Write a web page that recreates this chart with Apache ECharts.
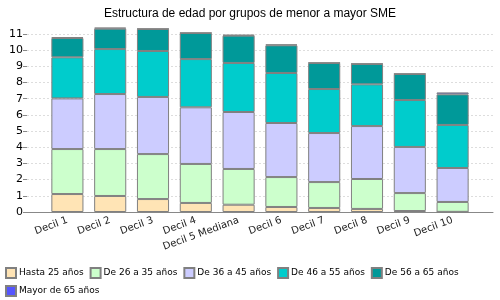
<!DOCTYPE html>
<html>
<head>
<meta charset="utf-8">
<script src="https://cdn.jsdelivr.net/npm/echarts@6/dist/echarts.min.js"></script>
<style>
    html, body { margin: 0; padding: 0; background: #fff; }
    #chart { width: 500px; height: 300px; }
</style>
</head>
<body>
<div id="chart"></div>
<script>
// deciles, de menor a mayor SME
var categorias = ['Decil 1', 'Decil 2', 'Decil 3', 'Decil 4', 'Decil 5 Mediana',
    'Decil 6', 'Decil 7', 'Decil 8', 'Decil 9', 'Decil 10'];

// valores por grupo de edad
var hasta25 = [1.11, 0.99, 0.80, 0.56, 0.45, 0.31, 0.25, 0.19, 0.06, 0.01];
var de26a35 = [2.78, 2.90, 2.78, 2.41, 2.21, 1.85, 1.60, 1.85, 1.11, 0.61];
var de36a45 = [3.13, 3.40, 3.53, 3.50, 3.52, 3.34, 3.03, 3.27, 2.85, 2.10];
var de46a55 = [2.54, 2.78, 2.84, 2.98, 3.03, 3.09, 2.72, 2.58, 2.90, 2.66];
var de56a65 = [1.19, 1.26, 1.36, 1.61, 1.69, 1.71, 1.61, 1.26, 1.61, 1.89];
var mayor65 = [0.05, 0.07, 0.02, 0.02, 0.05, 0.06, 0.02, 0.02, 0.02, 0.12];

var yTicks = [0, 11]; // min y max del eje

var grupos = [
    { name: 'Hasta 25 años', data: hasta25, color: '#ffe4b5' },
    { name: 'De 26 a 35 años', data: de26a35, color: '#ccffcc' },
    { name: 'De 36 a 45 años', data: de36a45, color: '#ccccff' },
    { name: 'De 46 a 55 años', data: de46a55, color: '#00cccc' },
    { name: 'De 56 a 65 años', data: de56a65, color: '#009999' },
    { name: 'Mayor de 65 años', data: mayor65, color: '#5555ff' }
];

var chart = echarts.init(document.getElementById('chart'));

chart.setOption({
    animation: false,
    title: {
        text: 'Estructura de edad por grupos de menor a mayor SME',
        left: 'center',
        top: 3,
        textStyle: { fontSize: 12, fontWeight: 'normal', color: '#000', fontFamily: 'Liberation Sans' }
    },
    legend: {
        left: 0,
        top: 262,
        width: 480,
        itemWidth: 10,
        itemHeight: 10,
        itemGap: 6,
        icon: 'rect',
        data: grupos.map(g => g.name),
        textStyle: { fontSize: 9, color: '#000', fontFamily: 'DejaVu Sans', padding: [0, 0, 0, -2] }
    },
    // grid 0: ejes y lineas guia, grid 1: barras
    grid: [
        { left: 27, right: 7, top: 34, bottom: 88 },
        { left: 46, right: 26, top: 34, bottom: 88 }
    ],
    xAxis: [{
        gridIndex: 0,
        type: 'value',
        min: 0,
        max: 1,
        axisLine: { show: true, onZero: false, lineStyle: { color: '#888' } },
        axisTick: { show: false },
        axisLabel: { show: false },
        splitLine: { show: false }
    }, {
        gridIndex: 1,
        type: 'category',
        data: categorias,
        axisLine: { show: false },
        axisTick: { show: false },
        axisLabel: {
            rotate: 20,
            interval: 0,
            margin: 8,
            fontSize: 10,
            color: '#222',
            fontFamily: 'DejaVu Sans'
        }
    }],
    yAxis: [{
        gridIndex: 0,
        type: 'value',
        min: yTicks[0],
        max: yTicks[1],
        interval: 1,
        axisLine: { show: false },
        axisTick: { show: true, length: 4, lineStyle: { color: '#888' } },
        axisLabel: { fontSize: 11, color: '#000', margin: 4, fontFamily: 'DejaVu Sans' },
        splitLine: { show: true, lineStyle: { color: '#ddd', type: [2, 2] } }
    }, {
        gridIndex: 1,
        type: 'value',
        min: yTicks[0],
        max: yTicks[1],
        show: false,
        splitLine: { show: false }
    }],
    series: grupos.map(g => ({
        name: g.name,
        type: 'bar',
        stack: 'edad',
        xAxisIndex: 1,
        yAxisIndex: 1,
        data: g.data,
        barCategoryGap: '25%',
        clip: false,
        itemStyle: { color: g.color, borderColor: '#808080', borderWidth: 1 }
    }))
});
</script>
</body>
</html>
